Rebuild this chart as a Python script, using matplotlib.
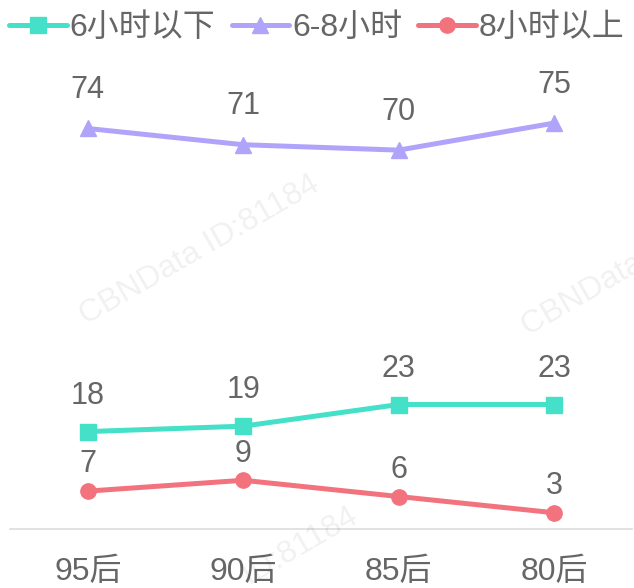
import numpy as np
from matplotlib import pyplot as plt

plt.rcParams['font.family'] = ['Liberation Sans', 'Noto Sans CJK SC', 'DejaVu Sans']

categories = ["95后", "90后", "85后", "80后"]
series_names = ["6小时以下", "6-8小时", "8小时以上"]
below6 = [18, 19, 23, 23]
six_to_8 = [74, 71, 70, 75]
above8 = [7, 9, 6, 3]

colors = ["#45e0c8", "#b0a4fa", "#f2727e"]
markers = ["s", "^", "o"]
label_offsets = [20, 22, 13.5]  # points above the marker
text_color = "#666666"

fig = plt.figure(figsize=(6.34, 5.88), dpi=100)
ax = fig.add_axes([10 / 634, 59 / 588, 622 / 634, 433 / 588])

x = np.arange(len(categories))
for vals, name, c, m, off in zip([below6, six_to_8, above8], series_names, colors, markers, label_offsets):
    ax.plot(x, vals, color=c, lw=3.6, marker=m, markersize=11, label=name,
            solid_capstyle="round")
    for xi, v in zip(x, vals):
        ax.annotate(str(v), (xi, v), xytext=(0, off), textcoords="offset points",
                    ha="center", va="baseline", fontsize=22, color=text_color)

ax.set_xlim(-0.5, 3.5)
ax.set_ylim(0, 80)
ax.set_xticks(x)
ax.set_xticklabels(categories, fontsize=23, color=text_color)
ax.tick_params(axis="x", length=0, pad=20)
ax.set_yticks([])
for s in ["top", "left", "right"]:
    ax.spines[s].set_visible(False)
ax.spines["bottom"].set_color("#dddddd")
ax.spines["bottom"].set_linewidth(1.2)

leg = fig.legend(loc="upper center", bbox_to_anchor=(0.5, 1.0), ncol=3, frameon=False,
                 fontsize=23, handlelength=1.8, handletextpad=0.1, columnspacing=0.5,
                 borderaxespad=0)
for t in leg.get_texts():
    t.set_color(text_color)

# watermarks
wm = dict(color="#000000", alpha=0.06, fontsize=23, rotation=30, ha="center", va="center")
fig.text(200 / 634, 1 - 250 / 588, "CBNData ID:81184", **wm)
fig.text(600 / 634, 1 - 285 / 588, "CBNData ID", **wm)
fig.text(300 / 634, 1 - 545 / 588, "ID:81184", **wm)

fig.savefig("out.png", dpi=100, facecolor="white")
